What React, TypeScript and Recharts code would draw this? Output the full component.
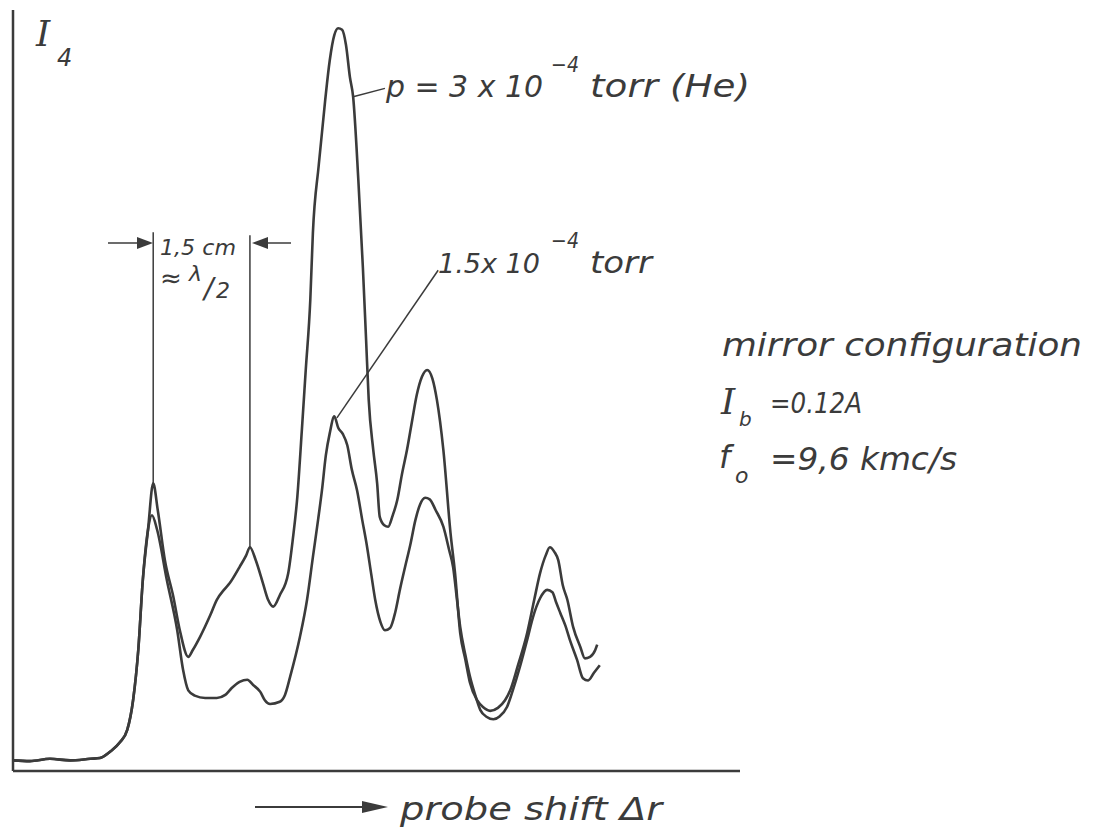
import { LineChart, Line, XAxis, YAxis, ReferenceLine } from 'recharts';

// probe shift (cm) and probe signal I4 (arbitrary units, 0-100)
const highShift = [
  0, 0.26, 0.57, 0.88, 1.19, 1.34, 1.49, 1.65, 1.76, 1.85, 1.93, 2.0, 2.08,
  2.16, 2.23, 2.34, 2.47, 2.57, 2.7, 2.77, 2.88, 3.04, 3.14,
  3.25, 3.34, 3.49, 3.59, 3.65, 3.74, 3.85, 3.93, 4.01, 4.11,
  4.24, 4.31, 4.38, 4.45, 4.51, 4.58, 4.62, 4.71, 4.81, 4.88,
  4.95, 5.01, 5.07, 5.13, 5.19, 5.24, 5.32, 5.39, 5.44, 5.48,
  5.55, 5.61, 5.65, 5.72, 5.78, 5.85, 5.92, 5.99, 6.07, 6.15,
  6.22, 6.3, 6.38, 6.46, 6.53, 6.63, 6.74, 6.81, 6.89, 6.97,
  7.04, 7.15, 7.24, 7.35, 7.47, 7.58, 7.66, 7.78, 7.92, 8.03,
  8.12, 8.21, 8.27, 8.34, 8.4, 8.47, 8.54, 8.63, 8.74, 8.81,
  8.89, 8.97, 9.0,
];
const highSignal = [
  1.4, 1.3, 1.6, 1.4, 1.6, 1.7, 2.5, 3.8, 5.4, 9.3, 15.9, 25.1, 31.7,
  37.8, 34.3, 27.7, 22.9, 18.5, 15.0, 15.9, 17.6, 20.5, 22.5,
  23.8, 24.7, 26.8, 28.3, 29.4, 27.7, 24.7, 22.5, 21.6, 23.1,
  26.0, 30.4, 36.0, 44.8, 52.7, 61.9, 70.7, 79.6, 88.2, 93.4,
  96.7, 97.6, 97.4, 95.4, 91.2, 88.6, 77.7, 66.2, 56.6, 48.8,
  42.2, 37.8, 33.4, 32.3, 32.1, 33.6, 35.6, 38.9, 42.2, 46.1,
  49.4, 51.8, 52.7, 51.6, 48.8, 42.2, 31.3, 26.0, 18.1, 14.6,
  11.6, 9.3, 8.4, 7.9, 8.3, 9.3, 10.6, 13.9, 18.1, 22.5,
  26.0, 28.4, 29.4, 28.8, 27.7, 24.4, 22.5, 18.9, 16.3, 14.8,
  15.0, 15.9, 16.6,
];

const lowShift = [
  0, 0.26, 0.57, 0.88, 1.19, 1.34, 1.49, 1.65, 1.76, 1.85, 1.93, 2.0, 2.08,
  2.14, 2.22, 2.37, 2.53, 2.62, 2.7, 2.8, 2.96, 3.14, 3.27,
  3.37, 3.49, 3.61, 3.7, 3.81, 3.88, 3.96, 4.11, 4.19, 4.27,
  4.42, 4.53, 4.62, 4.7, 4.76, 4.82, 4.88, 4.95, 5.01, 5.08,
  5.15, 5.22, 5.3, 5.38, 5.45, 5.52, 5.58, 5.66, 5.73, 5.81,
  5.89, 5.96, 6.04, 6.12, 6.2, 6.27, 6.35, 6.42, 6.51, 6.63,
  6.72, 6.78, 6.84, 6.89, 6.97, 7.04, 7.12, 7.2, 7.3, 7.4,
  7.5, 7.61, 7.7, 7.81, 7.92, 8.01, 8.12, 8.23, 8.31, 8.37,
  8.43, 8.51, 8.58, 8.69, 8.78, 8.86, 8.95, 9.04,
];
const lowSignal = [
  1.4, 1.3, 1.6, 1.4, 1.6, 1.7, 2.5, 3.8, 5.4, 9.3, 15.9, 25.1, 31.7,
  33.6, 31.7, 25.1, 18.5, 13.3, 10.6, 9.9, 9.6, 9.6, 10.0,
  10.9, 11.7, 12.0, 11.3, 10.4, 9.3, 8.8, 9.1, 10.0, 12.4,
  17.6, 22.5, 28.1, 33.0, 36.9, 41.5, 44.4, 46.6, 45.1, 44.3,
  42.8, 39.6, 36.9, 33.0, 29.7, 25.8, 22.5, 19.6, 18.5, 18.8,
  20.9, 23.8, 26.8, 29.7, 33.0, 35.0, 35.9, 35.7, 34.3, 32.1,
  29.0, 26.8, 22.5, 18.9, 15.2, 12.4, 10.0, 8.0, 7.1, 6.8,
  7.2, 8.4, 10.6, 13.7, 17.2, 20.2, 22.7, 23.8, 23.5, 22.1,
  20.8, 19.1, 17.2, 14.6, 12.2, 11.9, 12.9, 13.9,
];

const highData = highShift.map((x, i) => ({ x, y: highSignal[i] }));
const lowData = lowShift.map((x, i) => ({ x, y: lowSignal[i] }));

const ink = '#3b3b3b';
const sans = '"DejaVu Sans", sans-serif';
const serif = '"DejaVu Serif", serif';

export default function App() {
  return (
    <div style={{ position: 'absolute', left: 0, top: 0, width: 1096, height: 830, background: '#fff' }}>
      <LineChart width={1096} height={830} data={highData} margin={{ top: 10, right: 356, bottom: 57, left: 11 }}>
        <XAxis
          type="number"
          dataKey="x"
          domain={[0, 11.2]}
          allowDataOverflow
          tick={false}
          tickLine={false}
          height={2}
          axisLine={{ stroke: ink, strokeWidth: 2.5 }}
        />
        <YAxis
          type="number"
          domain={[0, 100]}
          allowDataOverflow
          tick={false}
          tickLine={false}
          width={2}
          axisLine={{ stroke: ink, strokeWidth: 2.5 }}
        />
        {/* 1.5 cm spacing markers */}
        <ReferenceLine segment={[{ x: 2.16, y: 37.8 }, { x: 2.16, y: 70.8 }]} stroke={ink} strokeWidth={1.5} ifOverflow="visible" />
        <ReferenceLine segment={[{ x: 3.65, y: 29.4 }, { x: 3.65, y: 70.4 }]} stroke={ink} strokeWidth={1.5} ifOverflow="visible" />
        {/* leader lines to the labels */}
        <ReferenceLine segment={[{ x: 5.24, y: 88.6 }, { x: 5.73, y: 89.7 }]} stroke={ink} strokeWidth={1.5} ifOverflow="visible" />
        <ReferenceLine segment={[{ x: 4.99, y: 46.4 }, { x: 6.55, y: 65.8 }]} stroke={ink} strokeWidth={1.5} ifOverflow="visible" />
        <Line data={highData} dataKey="y" type="monotone" stroke={ink} strokeWidth={2.6} dot={false} isAnimationActive={false} />
        <Line data={lowData} dataKey="y" type="monotone" stroke={ink} strokeWidth={2.6} dot={false} isAnimationActive={false} />
      </LineChart>

      <svg
        width={1096}
        height={830}
        style={{ position: 'absolute', left: 0, top: 0, pointerEvents: 'none' }}
        fill={ink}
        fontStyle="italic"
      >
        {/* axis label */}
        <text x={36} y={46} fontFamily={serif} fontSize={36}>I</text>
        <text x={57} y={66} fontFamily={sans} fontSize={24}>4</text>

        {/* dimension arrows */}
        <line x1={108} y1={243} x2={140} y2={243} stroke={ink} strokeWidth={1.5} />
        <polygon points="137,237 153,243 137,249" />
        <line x1={266} y1={243} x2={291} y2={243} stroke={ink} strokeWidth={1.5} />
        <polygon points="268,237 252,243 268,249" />
        <text x={160} y={255} fontFamily={sans} fontSize={22} textLength={76} lengthAdjust="spacingAndGlyphs">1,5 cm</text>
        <text x={160} y={287} fontFamily={sans} fontSize={26}>≈</text>
        <text x={189} y={281} fontFamily={sans} fontSize={22}>λ</text>
        <text x={204} y={298} fontFamily={sans} fontSize={28}>/</text>
        <text x={216} y={298} fontFamily={sans} fontSize={22}>2</text>

        {/* pressure labels */}
        <text x={386} y={97} fontFamily={sans} fontSize={30} textLength={157} lengthAdjust="spacingAndGlyphs">p = 3 x 10</text>
        <text x={551} y={72} fontFamily={sans} fontSize={21} textLength={28} lengthAdjust="spacingAndGlyphs">−4</text>
        <text x={590} y={97} fontFamily={sans} fontSize={32} textLength={160} lengthAdjust="spacingAndGlyphs">torr  (He)</text>

        <text x={438} y={273} fontFamily={sans} fontSize={27} textLength={102} lengthAdjust="spacingAndGlyphs">1.5x 10</text>
        <text x={551} y={248} fontFamily={sans} fontSize={21} textLength={28} lengthAdjust="spacingAndGlyphs">−4</text>
        <text x={590} y={273} fontFamily={sans} fontSize={30} textLength={62} lengthAdjust="spacingAndGlyphs">torr</text>

        {/* conditions */}
        <text x={722} y={356} fontFamily={sans} fontSize={32} textLength={360} lengthAdjust="spacingAndGlyphs">mirror  configuration</text>
        <text x={721} y={414} fontFamily={serif} fontSize={36}>I</text>
        <text x={739} y={426} fontFamily={sans} fontSize={20}>b</text>
        <text x={770} y={413} fontFamily={sans} fontSize={28} textLength={92} lengthAdjust="spacingAndGlyphs">=0.12A</text>
        <text x={719} y={468} fontFamily={sans} fontSize={32}>f</text>
        <text x={735} y={483} fontFamily={sans} fontSize={22}>o</text>
        <text x={770} y={470} fontFamily={sans} fontSize={32} textLength={187} lengthAdjust="spacingAndGlyphs">=9,6 kmc/s</text>

        {/* x axis label */}
        <line x1={255} y1={807} x2={370} y2={807} stroke={ink} strokeWidth={2} />
        <polygon points="362,801 388,807 362,813" />
        <text x={400} y={820} fontFamily={sans} fontSize={32} textLength={262} lengthAdjust="spacingAndGlyphs">probe  shift Δr</text>
      </svg>
    </div>
  );
}
